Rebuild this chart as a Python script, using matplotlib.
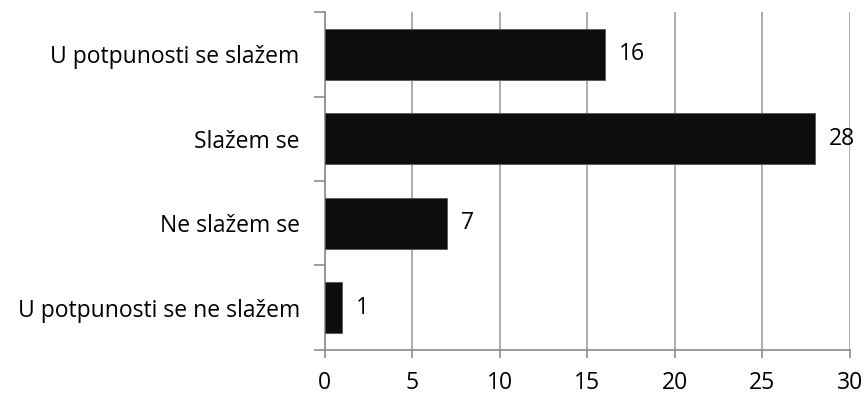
import matplotlib
matplotlib.use("Agg")
import matplotlib.pyplot as plt

# Survey answers, top to bottom as shown
categories = ["U potpunosti se slažem", "Slažem se", "Ne slažem se", "U potpunosti se ne slažem"]
counts = [16, 28, 7, 1]
x_ticks = [0, 5, 10, 15, 20, 25, 30]

plt.rcParams["font.family"] = ["Open Sans", "DejaVu Sans"]
FS = 16.5

fig = plt.figure(figsize=(8.66, 4.05), dpi=100)
ax = fig.add_axes([0.375, 0.136, 0.6065, 0.834])

ypos = list(range(len(categories)))[::-1]
ax.barh(ypos, counts, height=0.6, color="#0d0d0d", edgecolor="#555555", linewidth=0.6, zorder=3)

for y, v in zip(ypos, counts):
    ax.text(v + 0.8, y, str(v), va="center", ha="left", fontsize=FS, color="black", zorder=4)

ax.set_xlim(0, 30)
ax.set_ylim(-0.5, len(categories) - 0.5)
ax.set_xticks(x_ticks)
ax.set_xticklabels([str(t) for t in x_ticks], fontsize=FS)
ax.tick_params(axis="x", length=6, width=1.2, color="#8c8c8c", pad=9)

# category labels between the boundary ticks
ax.set_yticks(ypos)
ax.set_yticklabels(categories, fontsize=FS)
ax.tick_params(axis="y", length=0, pad=18)
ax.set_yticks([i - 0.5 for i in range(len(categories) + 1)], minor=True)
ax.tick_params(axis="y", which="minor", length=8, width=1.2, color="#8c8c8c")

ax.grid(axis="x", color="#a0a0a0", linewidth=1.2, zorder=0)
for s in ["top", "right"]:
    ax.spines[s].set_visible(False)
for s in ["left", "bottom"]:
    ax.spines[s].set_color("#8c8c8c")
    ax.spines[s].set_linewidth(1.2)

fig.savefig("out.png", dpi=100)
